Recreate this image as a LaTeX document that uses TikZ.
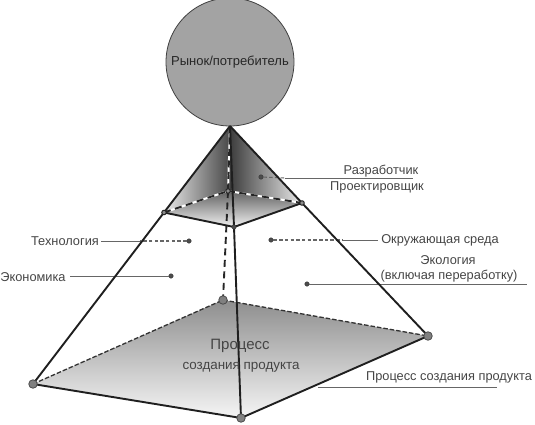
\documentclass[tikz,border=0pt]{standalone}
\usepackage{fontspec}
\setmainfont{Liberation Sans}
\definecolor{lbl}{gray}{0.27}
\definecolor{leader}{gray}{0.4}
\tikzset{
  x=1pt,y=-1pt,
  edge/.style={draw=black!88,line width=1.9pt},
  backedge/.style={draw=black!85,line width=1.9pt,dash pattern=on 7pt off 4.5pt},
  whiteback/.style={draw=white,line width=2pt},
  basedash/.style={draw=black!80,line width=1.3pt,dash pattern=on 4.5pt off 2pt},
  bigdot/.style={circle,draw=black!70,fill=black!50,line width=0.8pt,minimum size=8.5pt,inner sep=0},
  smalldot/.style={circle,draw=black!85,fill=black!45,line width=1pt,minimum size=4.5pt,inner sep=0},
  tagdot/.style={circle,draw=black!80,fill=black!70,minimum size=4.5pt,inner sep=0},
  lbltext/.style={text=lbl,font=\fontsize{12.8pt}{15pt}\selectfont,inner sep=0},
  solidlead/.style={draw=leader,line width=1pt},
  dashlead/.style={draw=leader,line width=1.1pt,dash pattern=on 3.5pt off 2.2pt},
}
\begin{document}
\begin{tikzpicture}
\useasboundingbox (0,0) rectangle (535,425);
% market circle
\node[circle,draw=black!75,fill=black!36,line width=0.8pt,minimum size=128pt,inner sep=0,
  font=\fontsize{13pt}{15pt}\selectfont,text=black!85] (market) at (230,62) {Рынок/потребитель};
% vertices
\coordinate (A) at (230,126);
\coordinate (SL) at (164,212.5);
\coordinate (SR) at (302,203);
\coordinate (SB) at (228,191);
\coordinate (SF) at (234,227);
\coordinate (BL) at (33,384);
\coordinate (BR) at (428,336);
\coordinate (BB) at (223,300);
\coordinate (BF) at (241,418);
% base fill
\begin{scope}
  \clip (BL)--(BB)--(BR)--(BF)--cycle;
  \shade[top color=black!45,bottom color=black!3,shading angle=0] (20,298) rectangle (440,420);
\end{scope}
% small pyramid shades
\begin{scope}
  \clip (A)--(SL)--(SB)--cycle;
  \shade[left color=black!8,right color=black!72] (164,120) rectangle (230,215);
\end{scope}
\begin{scope}
  \clip (A)--(SB)--(SF)--(SR)--cycle;
  \shade[left color=black!78,right color=black!8] (228,120) rectangle (302,228);
\end{scope}
\begin{scope}
  \clip (SL)--(SB)--(SR)--(SF)--cycle;
  \shade[top color=black!62,bottom color=black!4] (160,191) rectangle (305,228);
\end{scope}
% leaders under the pyramid edges
\node[tagdot] (d1) at (261,177) {};
\node[tagdot] (d2) at (189,241) {};
\node[tagdot] (d3) at (271,240) {};
\node[tagdot] (d4) at (171,276) {};
\node[tagdot] (d5) at (307,284) {};
\coordinate (e1) at (285,178);
\coordinate (e1end) at (413,178);
\coordinate (e2) at (140,241);
\coordinate (e2end) at (101,241);
\coordinate (e3) at (343,240);
\coordinate (e3end) at (378,240);
\coordinate (e4end) at (70,276);
\coordinate (e5end) at (527,284);
\coordinate (e6) at (318,387);
\coordinate (e6end) at (497,387);
\draw[dashlead] (d1)--(e1);
\draw[solidlead] (e1)--(e1end);
\draw[dashlead] (d2)--(e2);
\draw[solidlead] (e2)--(e2end);
\draw[dashlead] (d3)--(e3);
\draw[solidlead] (e3)--(e3end);
\draw[solidlead] (d4)--(e4end);
\draw[solidlead] (d5)--(e5end);
\draw[solidlead] (e6)--(e6end);
% hidden edges
\draw[whiteback] (A)--(SB);
\draw[backedge] (A)--(SB);
\draw[whiteback] (SL)--(SB)--(SR);
\draw[backedge] (SL)--(SB);
\draw[backedge] (SB)--(SR);
\draw[backedge] (SB)--(BB);
\draw[basedash] (BL)--(BB)--(BR);
% visible edges
\draw[edge] (A)--(SL)--(BL);
\draw[edge] (A)--(SR)--(BR);
\draw[edge] (A)--(SF)--(BF);
\draw[edge] (SL)--(SF)--(SR);
\draw[edge] (BL)--(BF)--(BR);
% vertex dots
\node[bigdot] (nBL) at (BL) {};
\node[bigdot] (nBB) at (BB) {};
\node[bigdot] (nBR) at (BR) {};
\node[bigdot] (nBF) at (BF) {};
\node[smalldot] (nSL) at (SL) {};
\node[smalldot] (nSR) at (SR) {};
\node[smalldot] (nSB) at (SB) {};
\node[tagdot] (nSF) at (SF) {};
% labels
\node[lbltext] (t1) at (381,171) {Разработчик};
\node[lbltext] (t2) at (377,187) {Проектировщик};
\node[lbltext] (t3) at (65,241) {Технология};
\node[lbltext] (t4) at (440,240) {Окружающая среда};
\node[lbltext] (t5) at (448,260) {Экология};
\node[lbltext] (t6) at (449,276) {(включая переработку)};
\node[lbltext] (t7) at (33,277) {Экономика};
\node[lbltext] (t8) at (449,377) {Процесс создания продукта};
\node[lbltext,font=\fontsize{15pt}{17pt}\selectfont] (t9) at (240,346) {Процесс};
\node[lbltext,font=\fontsize{13.4pt}{15pt}\selectfont] (t10) at (241,367) {создания продукта};
\end{tikzpicture}
\end{document}
